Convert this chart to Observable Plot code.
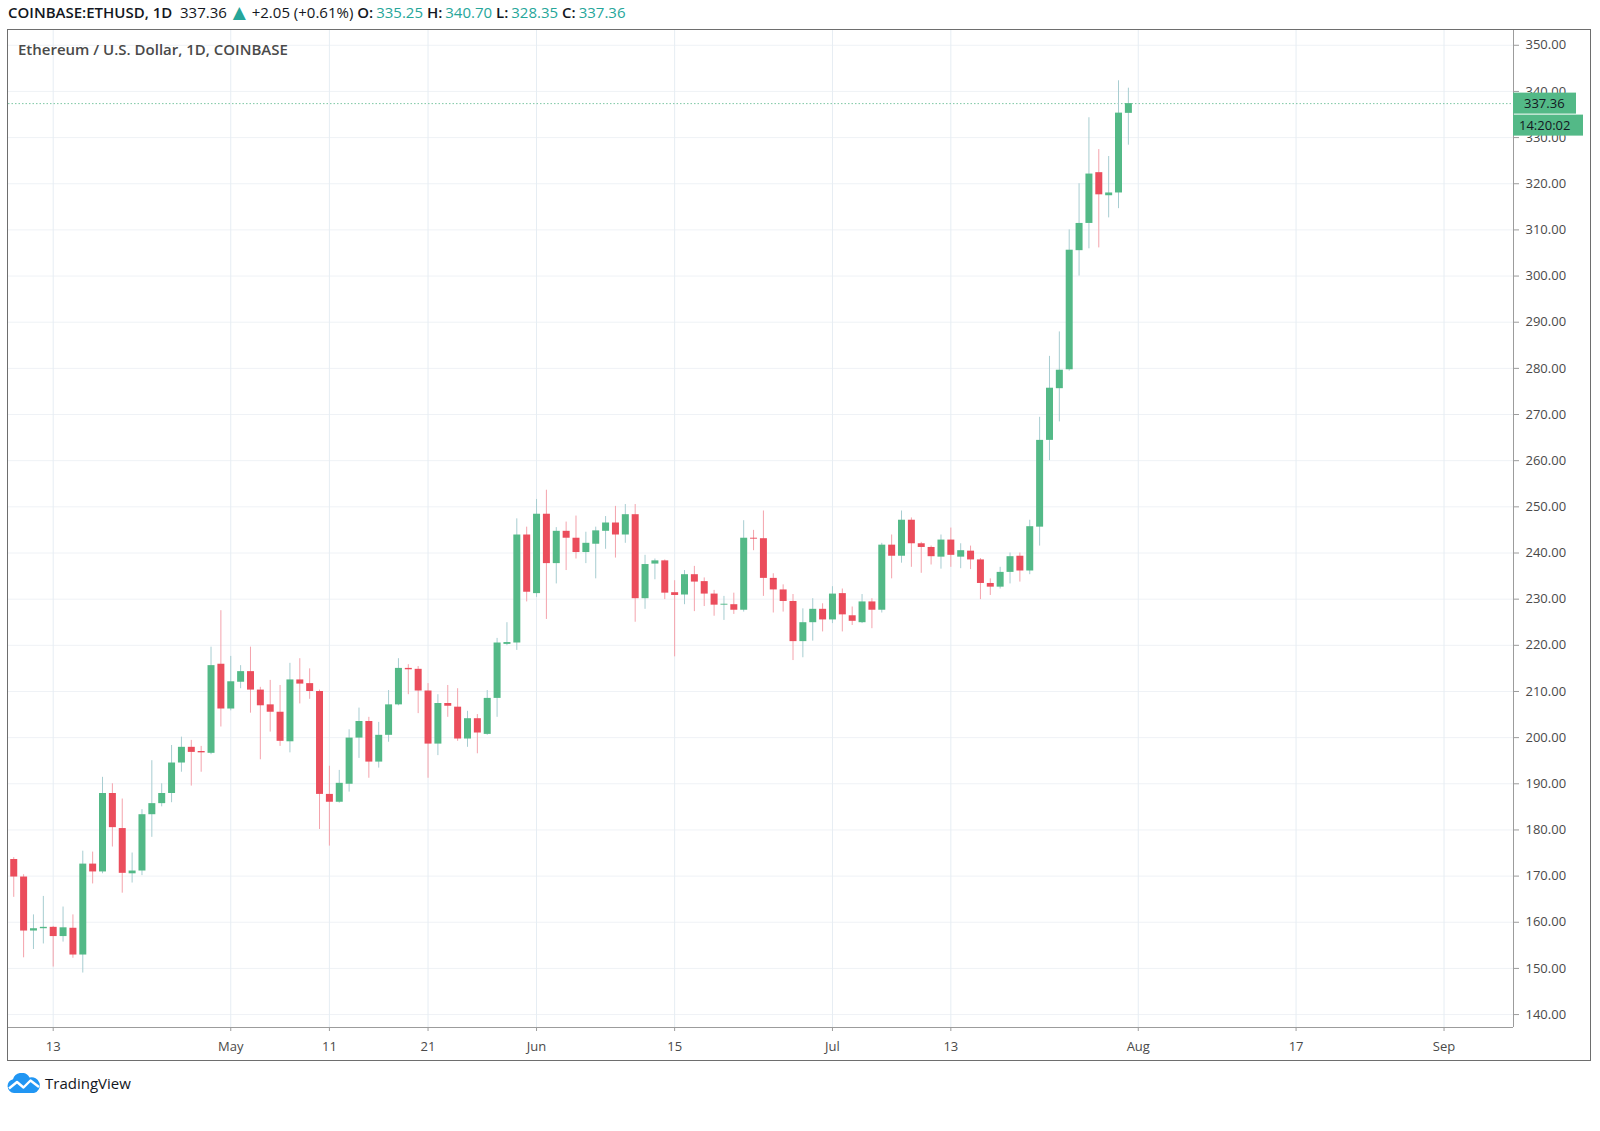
<!DOCTYPE html>
<html>
<head>
<meta charset="utf-8">
<script src="https://cdn.jsdelivr.net/npm/d3@7"></script>
<script src="https://cdn.jsdelivr.net/npm/@observablehq/plot@0.6"></script>
<style>
  body { margin: 0; background: #fff; font-family: "Open Sans", sans-serif; }
  #page { position: relative; width: 1600px; height: 1131px; overflow: hidden; background: #fff; }
  #header { position: absolute; left: 8px; top: 1px; font-size: 15px; line-height: 22px; color: #131722; white-space: nowrap; }
  #header .b { font-weight: 600; }
  #header .g { color: #26a69a; margin-left: 3px; }
  #header .tri { color: #26a69a; font-family: "DejaVu Sans", sans-serif; font-size: 17px; line-height: 15px; margin: 0 2px; }
  #chart { position: absolute; left: 0; top: 28px; }
  #frame { position: absolute; left: 7px; top: 29px; width: 1584px; height: 1032px; border: 1.5px solid #6e6e6e; box-sizing: border-box; pointer-events: none; }
  #title { position: absolute; left: 18px; top: 39px; font-size: 15px; font-weight: 600; color: #4a4a4a; white-space: nowrap; }
  #logo { position: absolute; left: 7px; top: 1072px; height: 22px; display: flex; align-items: center; gap: 4px; font-size: 15px; color: #131722; }
</style>
</head>
<body>
<div id="page">
  <div id="header"><span class="b">COINBASE:ETHUSD, 1D</span>&nbsp; 337.36 <span class="tri">▲</span> +2.05 (+0.61%) <span class="b">O:</span><span class="g">335.25</span> <span class="b">H:</span><span class="g">340.70</span> <span class="b">L:</span><span class="g">328.35</span> <span class="b">C:</span><span class="g">337.36</span></div>
  <div id="chart"></div>
  <div id="frame"></div>
  <div id="title">Ethereum / U.S. Dollar, 1D, COINBASE</div>
  <div id="logo">
    <svg width="34" height="20" viewBox="0 0 34 20">
      <path d="M7 20 A7 7 0 0 1 6 6.2 A9 9 0 0 1 22.5 4.5 A7.6 7.6 0 0 1 27 20 Z" fill="#2196f3"/>
      <polyline points="2,15.5 10,9 16.5,14.5 23.5,7.5 32,14" fill="none" stroke="#fff" stroke-width="2.4" stroke-linejoin="round"/>
    </svg>
    <span>TradingView</span>
  </div>
</div>
<script>
const dates = [
  "2020-04-09","2020-04-10","2020-04-11","2020-04-12","2020-04-13","2020-04-14","2020-04-15","2020-04-16","2020-04-17","2020-04-18","2020-04-19",
  "2020-04-20","2020-04-21","2020-04-22","2020-04-23","2020-04-24","2020-04-25","2020-04-26","2020-04-27","2020-04-28","2020-04-29","2020-04-30",
  "2020-05-01","2020-05-02","2020-05-03","2020-05-04","2020-05-05","2020-05-06","2020-05-07","2020-05-08","2020-05-09","2020-05-10",
  "2020-05-11","2020-05-12","2020-05-13","2020-05-14","2020-05-15","2020-05-16","2020-05-17","2020-05-18","2020-05-19","2020-05-20",
  "2020-05-21","2020-05-22","2020-05-23","2020-05-24","2020-05-25","2020-05-26","2020-05-27","2020-05-28","2020-05-29","2020-05-30","2020-05-31",
  "2020-06-01","2020-06-02","2020-06-03","2020-06-04","2020-06-05","2020-06-06","2020-06-07","2020-06-08","2020-06-09","2020-06-10",
  "2020-06-11","2020-06-12","2020-06-13","2020-06-14","2020-06-15","2020-06-16","2020-06-17","2020-06-18","2020-06-19","2020-06-20",
  "2020-06-21","2020-06-22","2020-06-23","2020-06-24","2020-06-25","2020-06-26","2020-06-27","2020-06-28","2020-06-29","2020-06-30",
  "2020-07-01","2020-07-02","2020-07-03","2020-07-04","2020-07-05","2020-07-06","2020-07-07","2020-07-08","2020-07-09","2020-07-10",
  "2020-07-11","2020-07-12","2020-07-13","2020-07-14","2020-07-15","2020-07-16","2020-07-17","2020-07-18","2020-07-19","2020-07-20",
  "2020-07-21","2020-07-22","2020-07-23","2020-07-24","2020-07-25","2020-07-26","2020-07-27","2020-07-28","2020-07-29","2020-07-30","2020-07-31"
];
const open = [
  173.6,169.8,158.1,158.6,158.9,156.9,158.7,152.9,172.6,170.9,187.9,180.3,170.5,171.1,183.3,185.7,187.9,194.5,197.9,197.0,196.6,215.9,
  206.2,212.0,214.3,210.3,207.1,205.5,199.1,212.5,211.7,210.0,187.7,186.0,189.9,199.9,203.5,194.7,200.5,207.1,215.0,214.8,210.1,198.6,207.4,206.6,199.7,204.1,200.7,208.5,220.2,220.5,243.9,
  231.2,248.4,237.7,244.7,243.2,240.1,241.9,244.7,246.5,243.9,248.3,230.1,237.6,238.3,231.4,230.9,235.3,233.8,231.1,228.7,228.8,227.6,243.2,243.1,234.5,232.0,229.5,220.8,224.9,227.8,
  225.5,231.2,226.4,224.9,229.4,227.6,241.7,239.3,247.1,242.0,241.2,239.1,242.8,239.1,240.4,238.5,233.4,232.6,235.8,239.3,236.1,245.6,264.4,275.6,279.7,305.5,311.4,322.4,317.4,318.0,335.25
];
const high = [
  174.0,170.3,161.6,165.6,159.1,163.3,161.6,175.4,175.2,191.4,190.0,186.7,175.0,184.4,195.0,190.0,198.3,200.1,199.4,198.1,219.6,227.5,
  217.6,215.6,219.6,210.9,212.4,211.3,216.1,217.1,214.9,210.3,193.8,192.9,201.7,206.4,204.4,203.3,210.2,217.1,215.8,215.4,211.7,209.3,211.3,210.6,205.7,205.0,210.2,221.5,224.9,247.4,245.6,
  251.6,253.6,245.5,246.7,248.0,244.5,245.6,247.9,250.1,250.5,250.5,239.5,238.7,238.5,234.0,236.2,237.1,234.6,231.9,230.6,231.3,247.0,244.9,249.1,235.5,233.1,231.0,227.9,230.1,229.0,
  232.7,232.2,228.3,231.0,230.1,242.1,243.9,249.1,247.6,242.3,241.5,243.9,245.4,242.0,241.5,238.8,234.4,236.9,240.0,240.0,247.1,269.4,282.6,287.9,310.0,320.0,334.3,327.4,325.9,342.3,340.70
];
const low = [
  165.4,152.3,154.1,155.3,150.3,155.7,152.2,149.0,168.3,170.5,176.3,166.3,168.5,170.1,178.4,185.0,185.9,192.5,189.5,192.5,196.3,202.3,
  205.8,210.6,205.3,195.2,201.2,198.1,196.7,207.3,208.3,180.1,176.5,185.8,188.2,195.5,191.2,193.4,199.0,206.9,209.3,205.2,191.2,196.1,204.4,199.2,197.9,196.5,200.5,204.4,219.9,218.9,229.4,
  230.4,225.6,233.3,236.2,238.7,237.7,234.4,240.8,238.9,242.1,225.0,227.8,234.2,229.9,217.5,228.8,227.3,228.4,226.3,225.4,226.7,227.2,240.5,230.6,227.0,227.2,216.7,217.3,220.9,222.9,
  224.7,222.9,224.3,224.7,223.6,227.0,234.4,237.8,236.9,235.6,237.4,236.5,236.9,236.6,236.4,229.9,230.8,232.2,233.3,233.7,235.3,241.5,260.0,268.4,279.4,300.0,305.9,306.1,312.6,314.6,328.35
];
const close = [
  169.8,158.1,158.6,158.9,156.9,158.8,152.9,172.6,170.9,187.9,180.5,170.6,171.1,183.3,185.7,187.9,194.5,197.9,196.8,196.7,215.6,206.2,
  212.1,214.3,210.3,206.9,205.5,199.2,212.5,211.6,210.0,187.7,186.0,190.1,199.9,203.5,194.7,200.5,207.1,215.0,214.7,210.1,198.6,207.4,206.8,199.7,204.1,201.0,208.5,220.5,220.6,243.9,231.5,
  248.4,237.7,244.7,243.2,240.1,242.1,244.8,246.5,243.9,248.3,230.1,237.5,238.3,231.3,230.8,235.3,233.7,231.1,228.7,228.9,227.6,243.2,243.0,234.5,232.0,229.5,220.8,224.9,227.8,225.5,
  231.1,226.6,225.2,229.4,227.6,241.7,239.3,247.1,242.0,241.2,239.2,242.8,239.5,240.5,238.5,233.4,232.6,235.8,239.2,236.1,245.7,264.4,275.7,279.6,305.6,311.4,322.1,317.6,318.0,335.3,337.36
];
const xTickDates = ["2020-04-13","2020-05-01","2020-05-11","2020-05-21","2020-06-01","2020-06-15","2020-07-01","2020-07-13","2020-08-01","2020-08-17","2020-09-01"];
const xTickLabels = ["13","May","11","21","Jun","15","Jul","13","Aug","17","Sep"];
const yTicks = [140,150,160,170,180,190,200,210,220,230,240,250,260,270,280,290,300,310,320,330,340,350];
const lastPrice = 337.36;
const lastPriceLabel = "337.36";
const countdownLabel = "14:20:02";

const toDate = s => new Date(s + "T00:00:00Z");
const data = dates.map((d, i) => ({date: toDate(d), open: open[i], high: high[i], low: low[i], close: close[i]}));
const tickDates = xTickDates.map(toDate);
const labelByTime = new Map(tickDates.map((d, i) => [+d, xTickLabels[i]]));

const upColor = "#53b987", downColor = "#eb4d5c";
const upWick = "#a7cdd1", downWick = "#f4a3ac";
const xDomain = [new Date("2020-04-08T11:15:00Z"), new Date("2020-09-08T01:00:00Z")];
const yDomain = [137.2, 353.2];
const isUp = d => d.close >= d.open;

const chart = Plot.plot({
  width: 1600,
  height: 1036,
  marginLeft: 8,
  marginRight: 87,
  marginTop: 2,
  marginBottom: 37,
  x: {type: "utc", domain: xDomain, label: null},
  y: {domain: yDomain, label: null},
  color: {type: "identity"},
  style: {fontFamily: "'Open Sans', sans-serif", fontSize: "13px", color: "#4a4a4a", background: "transparent", overflow: "visible"},
  marks: [
    Plot.ruleY(yTicks, {stroke: "#eff2f6"}),
    Plot.ruleX(tickDates, {stroke: "#e6edf3"}),
    Plot.ruleY([lastPrice], {stroke: "#7cc7a3", strokeDasharray: "1.5,2", strokeWidth: 1}),
    Plot.ruleX(data, {x: "date", y1: "low", y2: "high", stroke: d => isUp(d) ? upWick : downWick, strokeWidth: 1}),
    Plot.ruleX(data, {x: "date", y1: "open", y2: "close", stroke: d => isUp(d) ? upColor : downColor, strokeWidth: 7}),
    Plot.ruleY([yDomain[0]], {stroke: "#9c9c9c"}),
    Plot.ruleX([xDomain[1]], {stroke: "#9c9c9c"}),
    Plot.axisY({anchor: "right", ticks: yTicks, tickSize: 5, tickPadding: 7, tickFormat: d => d.toFixed(2), stroke: "#9c9c9c", fill: "#4a4a4a", label: null}),
    Plot.axisX({anchor: "bottom", ticks: tickDates, tickSize: 4, tickPadding: 10, tickFormat: d => labelByTime.get(+d), stroke: "#9c9c9c", fill: "#4a4a4a", label: null})
  ]
});
document.getElementById("chart").appendChild(chart);

// price & countdown labels on the price axis, placed with the chart's own scales
const sy = chart.scale("y"), sx = chart.scale("x");
const yp = sy.apply(lastPrice), xr = sx.apply(xDomain[1]);
const svg = d3.select(chart);
const g = svg.append("g").attr("font-family", "'Open Sans', sans-serif").attr("font-size", 13).attr("text-anchor", "start");
g.append("rect").attr("x", xr).attr("y", yp - 10.5).attr("width", 63).attr("height", 21).attr("fill", upColor);
g.append("text").attr("x", xr + 11).attr("y", yp).attr("dy", "0.35em").attr("text-anchor", "start").attr("fill", "#131722").text(lastPriceLabel);
g.append("rect").attr("x", xr).attr("y", yp + 11.5).attr("width", 70).attr("height", 21).attr("fill", upColor);
g.append("text").attr("x", xr + 6).attr("y", yp + 22).attr("dy", "0.35em").attr("text-anchor", "start").attr("fill", "#131722").text(countdownLabel);
</script>
</body>
</html>
